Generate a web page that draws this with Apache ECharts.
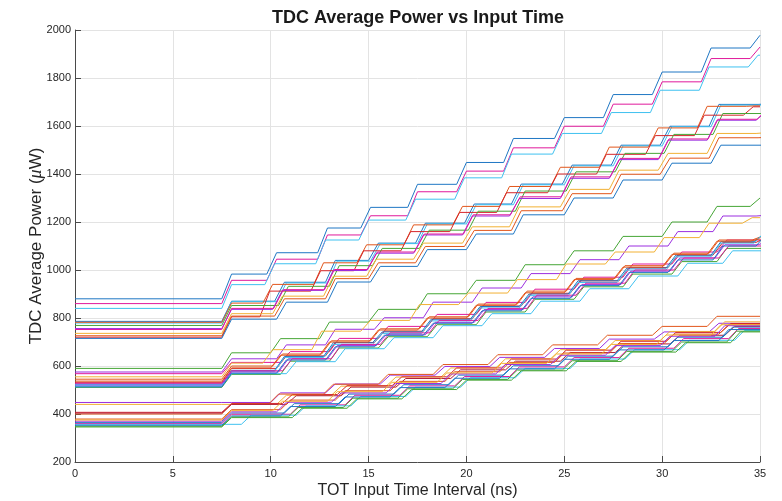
<!DOCTYPE html>
<html><head><meta charset="utf-8">
<script src="https://cdn.jsdelivr.net/npm/echarts@6/dist/echarts.min.js"></script>
<style>html,body{margin:0;padding:0;background:#fff}#c{width:782px;height:501px}</style>
</head><body><div id="c"></div>
<script>
const TITLE = 'TDC Average Power vs Input Time';
const X_LABEL = 'TOT Input Time Interval (ns)';
const X_RANGE = [0, 35];
const Y_RANGE = [200, 2000];
const X_STEP = 5;
const Y_STEP = 200;

// step onset times (ns) for each family of curves; each step ramps over RAMP ns
const topStepTimes = [7.5, 9.8, 12.4, 14.6, 17.0, 19.5, 21.9, 24.5, 27.0, 29.5, 32.0, 34.5];
const midStepTimes = [7.5, 10.0, 12.5, 15.0, 17.5, 20.0, 22.5, 25.0, 27.5, 30.0, 32.3, 34.5];
const lowStepTimes = [7.5, 10.3, 13.1, 15.9, 18.7, 21.5, 24.3, 27.1, 29.9, 32.7];
const RAMP = 0.5;

// plateau power levels (uW) for each curve
const topLevels = [
  [880, 983, 1072, 1175, 1261, 1357, 1448, 1548, 1635, 1731, 1825, 1925, 1978],
  [860, 957, 1045, 1146, 1226, 1326, 1412, 1509, 1599, 1691, 1784, 1881, 1929],
  [840, 939, 1026, 1125, 1208, 1295, 1384, 1483, 1569, 1656, 1749, 1846, 1895],
  [786, 870, 949, 1040, 1112, 1195, 1275, 1358, 1437, 1520, 1599, 1690, 1692],
  [779, 868, 946, 1037, 1110, 1192, 1272, 1355, 1434, 1517, 1597, 1687, 1689],
  [782, 862, 940, 1030, 1105, 1188, 1265, 1348, 1428, 1512, 1592, 1682, 1684],
  [720, 805, 912, 997, 1080, 1160, 1240, 1322, 1400, 1482, 1560, 1645, 1680],
  [769, 852, 932, 1018, 1090, 1166, 1245, 1329, 1409, 1486, 1565, 1652, 1655],
  [756, 836, 915, 998, 1070, 1146, 1225, 1298, 1382, 1460, 1541, 1624, 1660],
  [752, 840, 918, 1002, 1075, 1150, 1230, 1305, 1388, 1465, 1546, 1628, 1668],
  [736, 818, 891, 974, 1045, 1112, 1180, 1263, 1336, 1416, 1486, 1569, 1572],
  [726, 808, 880, 964, 1030, 1098, 1165, 1247, 1318, 1399, 1466, 1551, 1553],
  [715, 795, 866, 950, 1015, 1085, 1150, 1230, 1300, 1375, 1445, 1520, 1521]
];
const topLags = [0, 0, -0.1, 0.4, 0.5, -0.2, -0.35, 0.6, 0.3, 0.35, 0.3, 0.4, 0.5];
const topFirstLags = [0, 0, 0, 0, 0, 0, 0, 0, 0, 0, 0, 0, 0];

const midLevels = [
  [590, 655, 714, 783, 836, 901, 957, 1022, 1080, 1140, 1200, 1265, 1300],
  [575, 630, 688, 753, 801, 866, 925, 985, 1043, 1100, 1160, 1225, 1228],
  [568, 615, 660, 715, 765, 815, 865, 920, 970, 1025, 1075, 1125, 1128],
  [555, 612, 668, 745, 790, 856, 904, 960, 1025, 1075, 1135, 1195, 1218],
  [545, 600, 650, 705, 755, 805, 858, 912, 965, 1018, 1070, 1125, 1140],
  [532, 590, 642, 698, 745, 797, 850, 903, 955, 1010, 1062, 1115, 1135],
  [525, 582, 640, 697, 742, 795, 848, 900, 955, 1008, 1062, 1118, 1150],
  [522, 578, 635, 690, 735, 788, 842, 893, 948, 1000, 1055, 1112, 1155],
  [520, 575, 630, 685, 730, 782, 835, 888, 940, 995, 1050, 1105, 1120],
  [511, 565, 620, 675, 722, 772, 825, 878, 930, 983, 1035, 1090, 1092],
  [516, 568, 618, 672, 718, 768, 818, 870, 922, 975, 1028, 1080, 1082],
  [537, 592, 645, 700, 750, 800, 853, 905, 960, 1012, 1065, 1120, 1130],
  [528, 580, 630, 690, 738, 790, 840, 895, 945, 1000, 1050, 1100, 1108],
  [513, 570, 625, 680, 728, 778, 830, 882, 935, 990, 1042, 1100, 1148]
];
const midLags = [0, 0.3, 0.5, -0.4, 0.1, 0.3, 0.2, 0.2, 0.4, 0.5, 0.8, 0, 0.6, 0.3];
const midFirstLags = [0, 0, 0, 0, 0, 0, 0, 0, 0, 0, 0, 0, 0, 0];

const lowLevels = [
  [448, 448, 488, 525, 562, 598, 636, 673, 712, 742, 778],
  [440, 440, 478, 516, 554, 592, 630, 668, 706, 744, 784],
  [407, 444, 481, 518, 555, 592, 629, 666, 703, 740, 777],
  [400, 442, 483, 524, 565, 606, 647, 688, 728, 765, 807],
  [404, 440, 476, 512, 548, 584, 620, 656, 692, 728, 765],
  [379, 418, 458, 497, 536, 576, 615, 654, 694, 733, 772],
  [364, 404, 443, 483, 522, 562, 601, 641, 680, 720, 762],
  [360, 399, 438, 478, 517, 556, 596, 635, 674, 714, 756],
  [357, 395, 434, 473, 512, 551, 590, 629, 668, 707, 748],
  [349, 388, 427, 466, 505, 544, 583, 622, 661, 700, 745],
  [353, 392, 431, 471, 510, 549, 588, 628, 667, 706, 752],
  [346, 385, 424, 463, 502, 541, 580, 619, 658, 697, 742],
  [370, 409, 449, 488, 527, 567, 606, 645, 685, 724, 768],
  [375, 414, 453, 493, 532, 571, 611, 650, 690, 729, 772]
];
const lowLags = [-0.3, 0, 0.3, -0.4, 0.5, 0.2, 0.4, 0.7, 1.0, 0.6, 0.2, 0.8, 0, -0.2];
const lowFirstLags = [0, 0, 0, 0, 0, 0, 0, 0, 1.0, 0, 0, 0, 0, 0];

// styles
const PALETTE = {
  blue: '#1f77c4', magenta: '#e0199b', lightblue: '#3ec1f0', green: '#46a636',
  purple: '#9b2fe0', yellow: '#f2b134', orange: '#e2561b', red: '#d6262a', darkred: '#b01e3c'
};
const topColors = ['blue','magenta','lightblue','blue','lightblue','orange','red','green','purple','magenta','yellow','orange','blue'];
const midColors = ['green','purple','magenta','yellow','orange','red','blue','lightblue','purple','green','lightblue','orange','magenta','blue'];
const lowColors = ['purple','yellow','red','orange','darkred','orange','blue','magenta','lightblue','green','blue','green','purple','yellow'];

function buildSeries(levels, lags, firstLags, colors, steps) {
  return levels.map((lv, i) => {
    const pts = [[X_RANGE[0], lv[0]]];
    for (let k = 0; k < steps.length; k++) {
      const s = steps[k] + (k === 0 ? firstLags[i] : lags[i]);
      pts.push([s, lv[k]]);
      pts.push([s + RAMP, lv[k + 1]]);
    }
    const last = pts[pts.length - 1];
    if (last[0] < X_RANGE[1]) pts.push([X_RANGE[1], last[1]]);
    return {
      type: 'line', data: pts, showSymbol: false, symbol: 'none', clip: true,
      silent: true, emphasis: { disabled: true },
      lineStyle: { width: 1, color: PALETTE[colors[i]] },
      itemStyle: { color: PALETTE[colors[i]] }
    };
  });
}

const series = [].concat(
  buildSeries(lowLevels, lowLags, lowFirstLags, lowColors, lowStepTimes),
  buildSeries(midLevels, midLags, midFirstLags, midColors, midStepTimes),
  buildSeries(topLevels, topLags, topFirstLags, topColors, topStepTimes)
);

const FONT = '"Liberation Sans", Arial, Helvetica, sans-serif';
const TXT = '#262626';
const chart = echarts.init(document.getElementById('c'), null, { renderer: 'canvas' });
chart.setOption({
  backgroundColor: '#ffffff',
  animation: false,
  title: {
    text: TITLE, left: 413, top: 4, textAlign: 'center',
    textStyle: { fontFamily: FONT, fontSize: 18, fontWeight: 'bold', color: '#1a1a1a' }
  },
  grid: { left: 75, right: 22, top: 30, bottom: 39, containLabel: false, outerBoundsMode: 'none' },
  xAxis: {
    type: 'value', min: X_RANGE[0], max: X_RANGE[1], interval: X_STEP,
    name: X_LABEL, nameLocation: 'middle', nameGap: 21, nameMoveOverlap: false,
    nameTextStyle: { fontFamily: FONT, fontSize: 16, color: TXT },
    axisLine: { show: true, onZero: false, lineStyle: { color: '#4a4a4a', width: 1 } },
    axisTick: { show: true, inside: true, length: 6, lineStyle: { color: '#4a4a4a' } },
    axisLabel: { fontFamily: FONT, fontSize: 11, color: TXT, margin: 6, formatter: v => String(v) },
    splitLine: { show: true, lineStyle: { color: '#e3e3e3', width: 1 } }
  },
  yAxis: {
    type: 'value', min: Y_RANGE[0], max: Y_RANGE[1], interval: Y_STEP,
    name: 'TDC Average Power ({i|μ}W)', nameLocation: 'middle', nameGap: 30, nameRotate: 90,
    nameMoveOverlap: false,
    nameTextStyle: { fontFamily: FONT, fontSize: 17, color: TXT,
      rich: { i: { fontFamily: '"Liberation Serif", "DejaVu Serif", serif', fontStyle: 'italic', fontSize: 18, color: TXT } } },
    axisLine: { show: true, onZero: false, lineStyle: { color: '#4a4a4a', width: 1 } },
    axisTick: { show: true, inside: true, length: 6, lineStyle: { color: '#4a4a4a' } },
    axisLabel: { fontFamily: FONT, fontSize: 11, color: TXT, margin: 4, formatter: v => String(v) },
    splitLine: { show: true, lineStyle: { color: '#e3e3e3', width: 1 } }
  },
  series: series
});
</script>
</body></html>
